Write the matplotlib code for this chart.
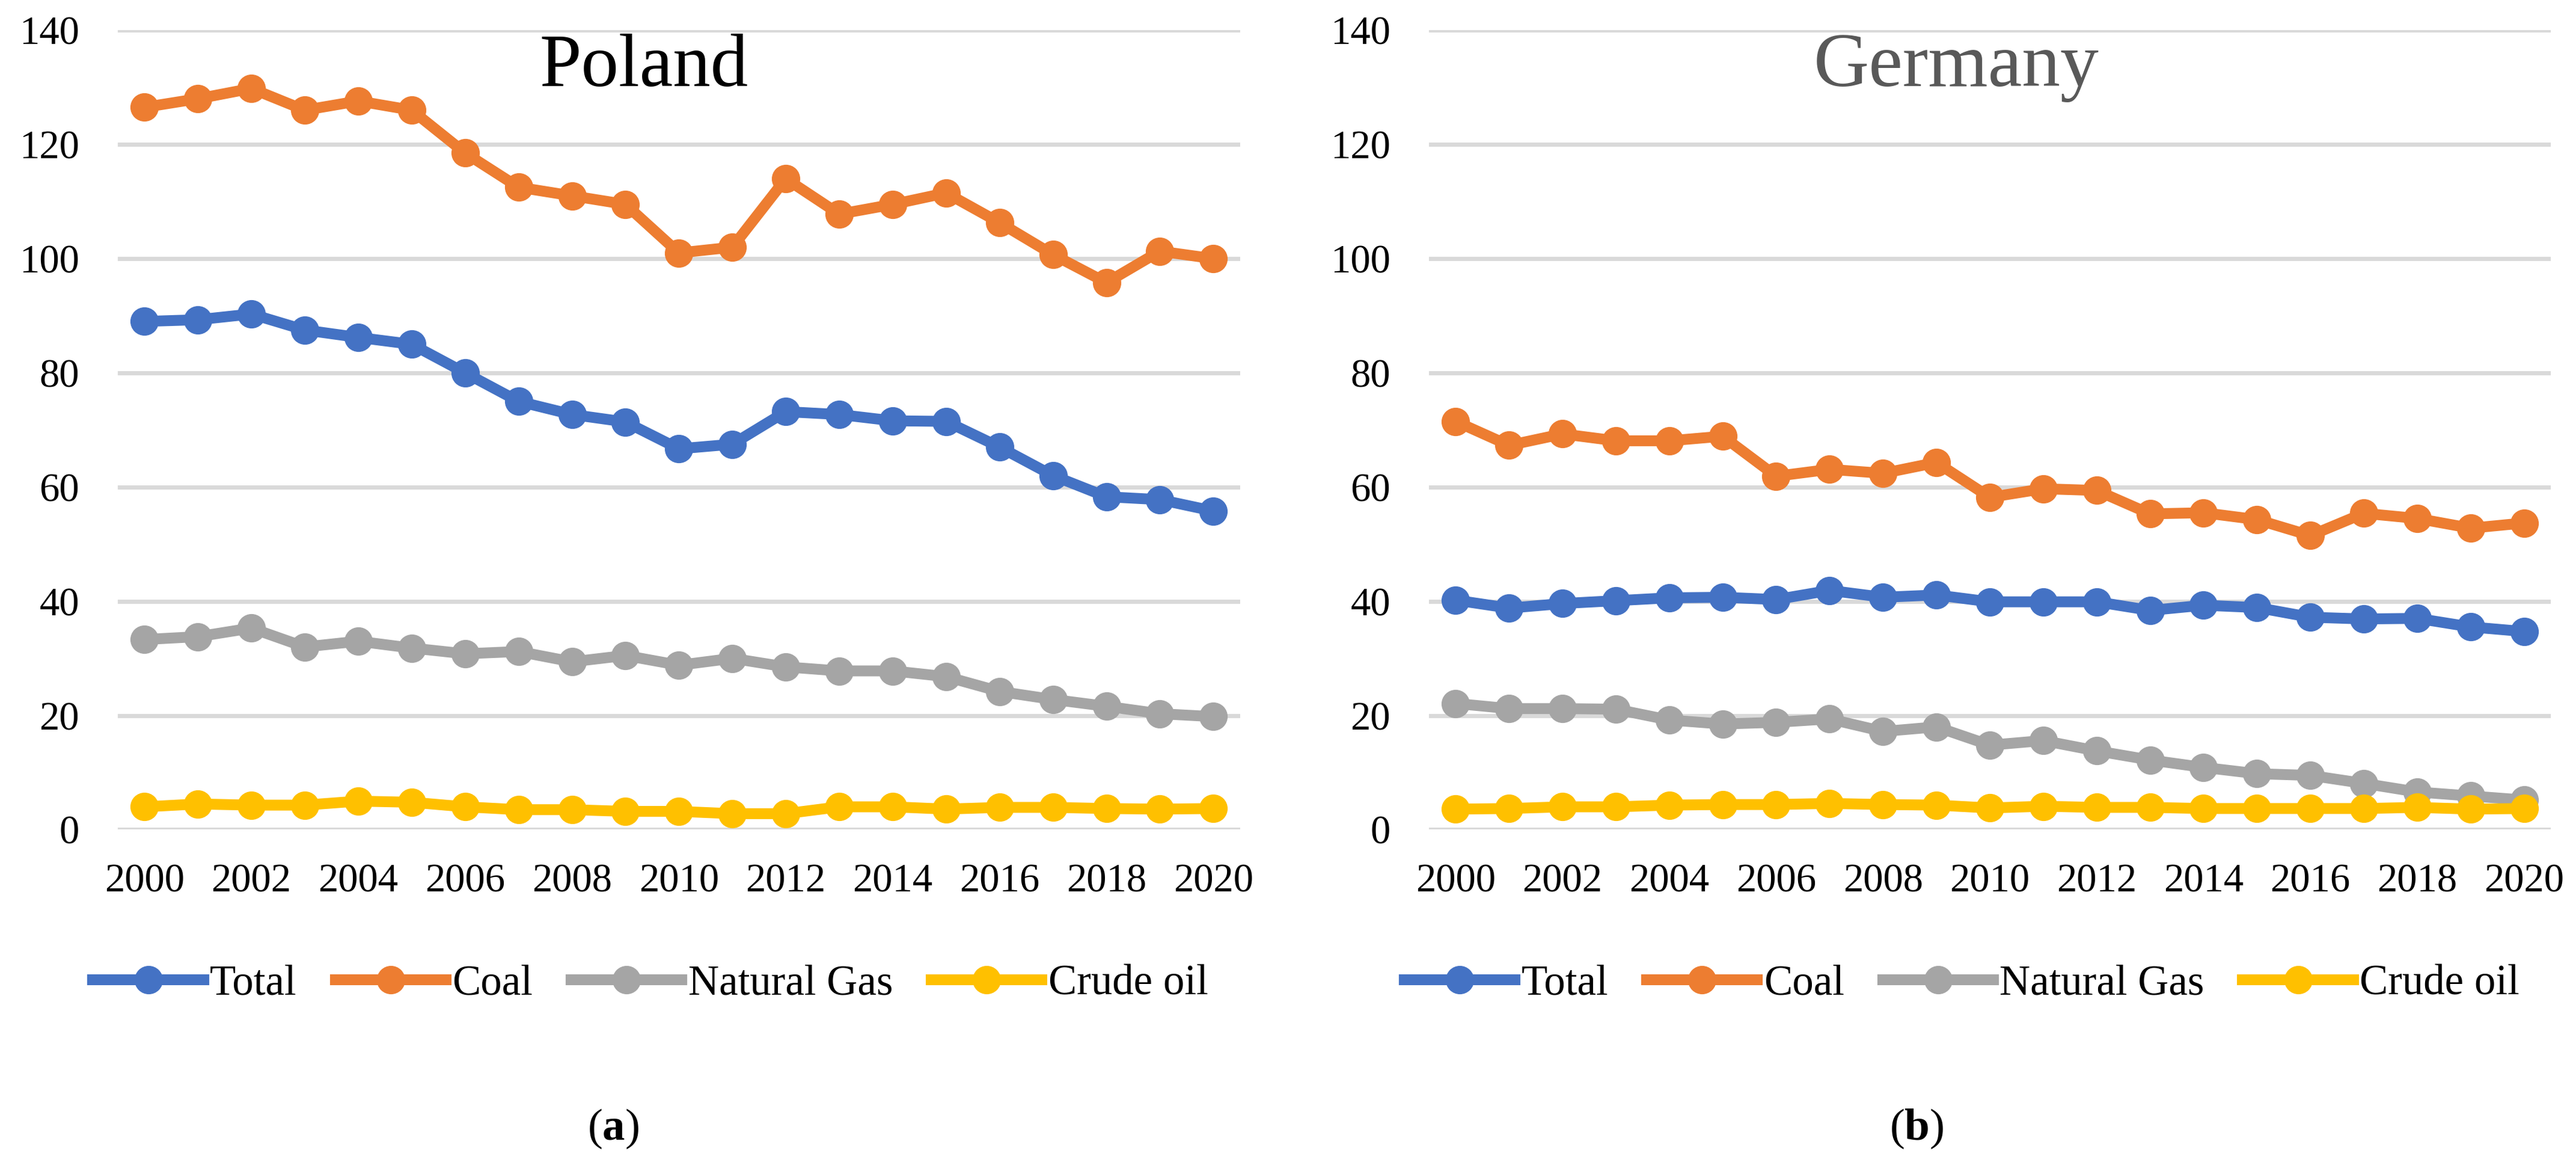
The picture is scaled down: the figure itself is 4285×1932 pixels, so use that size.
import matplotlib.pyplot as plt

plt.rcParams['mathtext.fontset'] = 'custom'
plt.rcParams['mathtext.rm'] = 'Liberation Serif'
plt.rcParams['mathtext.bf'] = 'Liberation Serif:bold'
plt.rcParams['font.family'] = 'Liberation Serif'

years = list(range(2000, 2021))
series_names = ['Total', 'Coal', 'Natural Gas', 'Crude oil']
colors = ['#4472C4', '#ED7D31', '#A5A5A5', '#FFC000']

# Poland
pl_total = [89.0, 89.3, 90.3, 87.5, 86.2, 85.0, 80.0, 75.0, 72.7, 71.4, 66.7,
            67.5, 73.2, 72.7, 71.6, 71.5, 67.0, 62.0, 58.3, 57.8, 55.8]
pl_coal = [126.5, 128.0, 129.8, 126.0, 127.6, 126.0, 118.5, 112.5, 111.0, 109.5, 101.0,
           102.0, 114.0, 107.8, 109.5, 111.5, 106.3, 100.7, 95.8, 101.3, 100.0]
pl_gas = [33.3, 33.8, 35.3, 32.0, 33.0, 31.8, 30.8, 31.2, 29.4, 30.5, 28.8,
          30.0, 28.5, 27.8, 27.8, 26.8, 24.2, 22.8, 21.6, 20.3, 19.8]
pl_oil = [4.0, 4.5, 4.3, 4.3, 5.0, 4.8, 4.0, 3.5, 3.5, 3.2, 3.2,
          2.8, 2.8, 4.0, 4.0, 3.6, 3.9, 3.9, 3.7, 3.6, 3.7]

# Germany
de_total = [40.2, 38.8, 39.6, 40.1, 40.6, 40.7, 40.3, 41.9, 40.7, 41.1, 39.9,
            39.9, 39.9, 38.4, 39.3, 38.9, 37.2, 36.9, 37.0, 35.5, 34.7]
de_coal = [71.5, 67.3, 69.3, 68.1, 68.1, 68.9, 61.9, 63.1, 62.4, 64.3, 58.2,
           59.7, 59.4, 55.3, 55.5, 54.3, 51.5, 55.4, 54.5, 52.8, 53.7]
de_gas = [22.1, 21.2, 21.2, 21.1, 19.2, 18.5, 18.8, 19.4, 17.2, 18.0, 14.8,
          15.6, 13.8, 12.2, 10.9, 9.8, 9.5, 8.1, 6.6, 5.9, 5.2]
de_oil = [3.6, 3.7, 4.0, 4.0, 4.3, 4.4, 4.4, 4.6, 4.4, 4.3, 3.8,
          4.1, 3.9, 3.9, 3.7, 3.7, 3.7, 3.7, 3.9, 3.6, 3.7]

fig = plt.figure(figsize=(42.85, 19.32), dpi=100)

panels = [
    ([0.0457, 0.286, 0.4357, 0.688], 'Poland', [pl_total, pl_coal, pl_gas, pl_oil],
     'black', 90, 0.469, 0.2525, 'a', 0.238),
    ([0.5547, 0.286, 0.4355, 0.688], 'Germany', [de_total, de_coal, de_gas, de_oil],
     '#595959', 92, 0.470, 0.7616, 'b', 0.744),
]

for rect, title, data, tcolor, tsize, tx, legx, letter, lx in panels:
    ax = fig.add_axes(rect)
    for vals, name, c in zip(data, series_names, colors):
        ax.plot(years, vals, color=c, lw=13, marker='o', ms=33, label=name)
    ax.set_ylim(0, 140)
    ax.set_xlim(1999.5, 2020.5)
    ax.set_yticks(range(0, 141, 20))
    ax.set_xticks(range(2000, 2021, 2))
    ax.yaxis.grid(True, color='#D9D9D9', lw=5)
    ax.set_axisbelow(True)
    for s in ax.spines.values():
        s.set_visible(False)
    ax.tick_params(length=0, labelsize=48)
    ax.tick_params(axis='y', pad=46)
    ax.tick_params(axis='x', pad=40)
    ax.text(tx, 130.2, title, transform=ax.get_yaxis_transform(), ha='center',
            va='baseline', fontsize=tsize, color=tcolor)
    handles, labels = ax.get_legend_handles_labels()
    fig.legend(handles, labels, loc='center', bbox_to_anchor=(legx, 0.153), ncol=4,
               frameon=False, handlelength=2.6, columnspacing=0.9,
               handletextpad=0.15, fontsize=51)
    fig.text(lx, 0.0285, '($\\mathbf{%s}$)' % letter, ha='center', va='center',
             fontsize=54)

fig.savefig('out.png', dpi=100, facecolor='white')
